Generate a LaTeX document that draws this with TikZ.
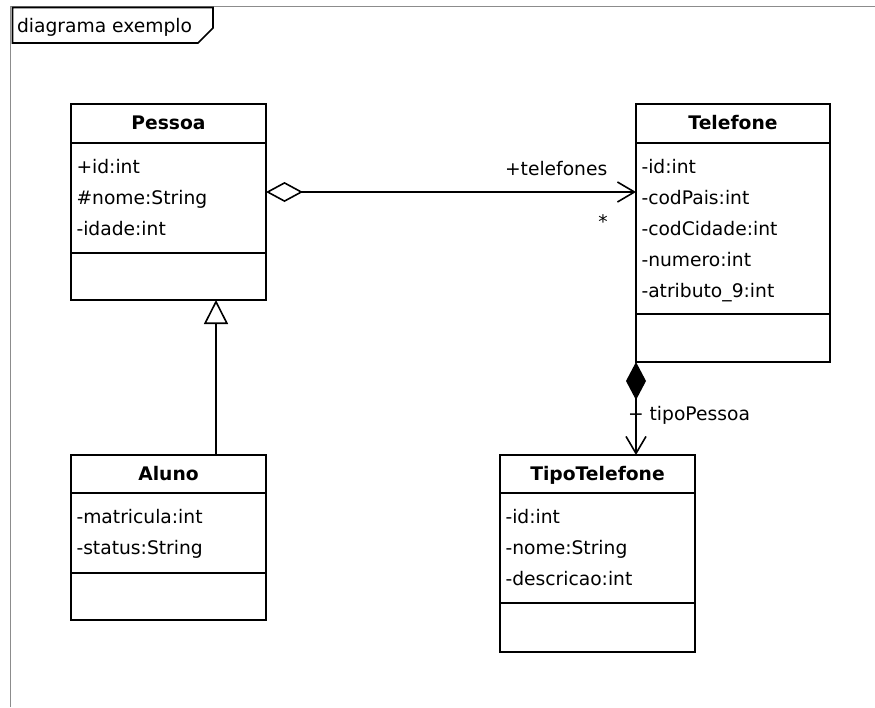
\documentclass[tikz,border=0pt]{standalone}
\usepackage{fontspec}
\setmainfont{DejaVu Sans}
\usetikzlibrary{arrows.meta,calc}

\begin{document}
\begin{tikzpicture}[x=1pt,y=-1pt,
  every node/.style={inner sep=0pt, outer sep=0pt, font=\fontsize{18.7}{22}\selectfont},
  box/.style={draw=black, line width=1.6pt, rectangle, anchor=north west, minimum width=195pt},
  header/.style={box, font=\fontsize{18.7}{22}\selectfont\bfseries, text height=15pt, text depth=3pt},
  member/.style={anchor=base west},
  link/.style={draw=black, line width=1.6pt},
  frameline/.style={draw=black!45, line width=1.6pt},
]
\useasboundingbox (0,0) rectangle (875,707);

% diagram frame and its name tag
\draw[frameline] (10.5,707) -- (10.5,6.5) -- (875,6.5);
\node[anchor=base west] (title) at (17,32) {diagrama exemplo};
\draw[link] (12.5,7.5) -- (12.5,43) -- (198,43) -- (213,28) -- (213,7.5) -- cycle;

% class Pessoa
\node[header, minimum height=39pt] (pessoa-head) at (71,104) {Pessoa};
\node[box, minimum height=110pt] (pessoa-attr) at (pessoa-head.south west) {};
\node[box, minimum height=47pt] (pessoa-ops) at (pessoa-attr.south west) {};
\node[member] (pessoa-a1) at ($(pessoa-attr.north west)+(5.5,30.5)$) {+id:int};
\node[member] (pessoa-a2) at ($(pessoa-attr.north west)+(5.5,61.5)$) {\#nome:String};
\node[member] (pessoa-a3) at ($(pessoa-attr.north west)+(5.5,92.5)$) {-idade:int};

% class Aluno
\node[header, minimum height=38pt] (aluno-head) at (71,455) {Aluno};
\node[box, minimum height=80pt] (aluno-attr) at (aluno-head.south west) {};
\node[box, minimum height=47pt] (aluno-ops) at (aluno-attr.south west) {};
\node[member] (aluno-a1) at ($(aluno-attr.north west)+(5.5,30.5)$) {-matricula:int};
\node[member] (aluno-a2) at ($(aluno-attr.north west)+(5.5,61.5)$) {-status:String};

% class Telefone
\node[header, minimum height=39pt, minimum width=194pt] (tel-head) at (636,104) {Telefone};
\node[box, minimum height=171pt, minimum width=194pt] (tel-attr) at (tel-head.south west) {};
\node[box, minimum height=48pt, minimum width=194pt] (tel-ops) at (tel-attr.south west) {};
\node[member] (tel-a1) at ($(tel-attr.north west)+(5.5,30.5)$) {-id:int};
\node[member] (tel-a2) at ($(tel-attr.north west)+(5.5,61.5)$) {-codPais:int};
\node[member] (tel-a3) at ($(tel-attr.north west)+(5.5,92.5)$) {-codCidade:int};
\node[member] (tel-a4) at ($(tel-attr.north west)+(5.5,123.5)$) {-numero:int};
\node[member] (tel-a5) at ($(tel-attr.north west)+(5.5,154.5)$) {-atributo\_9:int};

% class TipoTelefone
\node[header, minimum height=38pt] (tipo-head) at (500,455) {TipoTelefone};
\node[box, minimum height=110pt] (tipo-attr) at (tipo-head.south west) {};
\node[box, minimum height=49pt] (tipo-ops) at (tipo-attr.south west) {};
\node[member] (tipo-a1) at ($(tipo-attr.north west)+(5.5,30.5)$) {-id:int};
\node[member] (tipo-a2) at ($(tipo-attr.north west)+(5.5,61.5)$) {-nome:String};
\node[member] (tipo-a3) at ($(tipo-attr.north west)+(5.5,92.5)$) {-descricao:int};

% aggregation Pessoa -> Telefone
\coordinate (agg) at ($(pessoa-attr.north east)+(0,49)$);
\draw[link, {Diamond[open,length=37pt,width=20pt]}-{Straight Barb[length=17pt,width=20pt]}]
  (agg) -- (agg -| tel-attr.west);
\node[anchor=base west] (agg-role) at (505,175) {+telefones};
\node[anchor=base] (agg-mult) at (603,228) {*};

% generalization Aluno -> Pessoa
\coordinate (gen) at (216,0);
\draw[link, -{Triangle[open,length=24pt,width=24pt]}]
  (aluno-head.north -| gen) -- (pessoa-ops.south -| gen);

% composition Telefone -> TipoTelefone
\draw[link, {Diamond[length=38pt,width=20pt]}-{Straight Barb[length=17pt,width=20pt]}]
  (tel-ops.south west) -- (tel-ops.south west |- tipo-head.north);
\node[anchor=base west] (comp-role) at (628,420) {+ tipoPessoa};
\end{tikzpicture}
\end{document}
